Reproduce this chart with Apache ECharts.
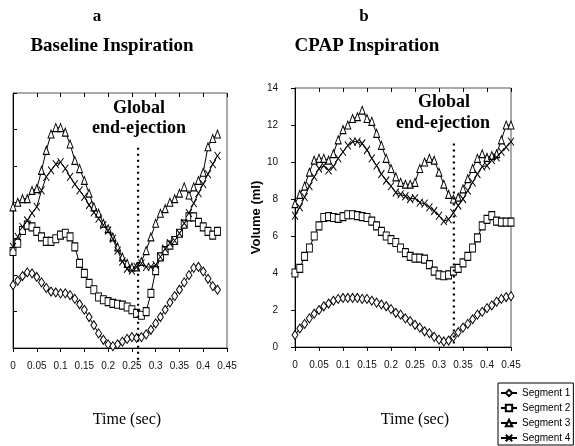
<!DOCTYPE html>
<html>
<head>
<meta charset="utf-8">
<script src="https://cdn.jsdelivr.net/npm/echarts@6/dist/echarts.min.js"></script>
<style>
  html,body{margin:0;padding:0;background:#fff;}
  #chart{width:575px;height:446px;}
</style>
</head>
<body>
<div id="chart"></div>
<script>
// ---- data ----
const timeSec = [0,0.01,0.02,0.03,0.04,0.05,0.06,0.07,0.08,0.09,0.1,0.11,0.12,0.13,0.14,0.15,
  0.16,0.17,0.18,0.19,0.2,0.21,0.22,0.23,0.24,0.25,0.26,0.27,0.28,0.29,0.3,0.31,0.32,0.33,
  0.34,0.35,0.36,0.37,0.38,0.39,0.4,0.41,0.42,0.43,0.44,0.45];
const segNames = ['Segment 1','Segment 2','Segment 3','Segment 4'];

// a: Baseline inspiration
const baseSeg1 = [3.45,3.7,3.95,4.15,4.1,3.9,3.6,3.3,3.1,3.05,3.0,3.0,2.9,2.7,2.4,2.1,1.7,1.25,0.8,0.45,
  0.2,0.1,0.2,0.35,0.5,0.6,0.55,0.6,0.75,1.0,1.35,1.7,2.1,2.5,2.85,3.2,3.6,4.0,4.4,4.45,4.2,3.8,3.4,3.2];
const baseSeg2 = [5.3,5.75,6.45,6.75,6.65,6.4,6.1,5.85,5.85,6.0,6.2,6.3,6.1,5.55,4.65,4.1,3.55,3.2,2.8,2.65,
  2.55,2.45,2.4,2.35,2.25,2.1,1.9,1.8,2.0,3.0,4.25,5.0,5.35,5.65,5.9,6.3,6.8,7.2,7.2,6.9,6.65,6.4,6.2,6.4];
const baseSeg3 = [7.75,8.0,8.2,8.2,8.65,8.75,9.75,10.85,11.75,12.1,12.1,11.85,11.2,10.3,9.85,9.2,8.5,7.75,7.4,6.85,
  6.55,6.1,5.55,5.0,4.65,4.45,4.45,4.75,5.35,6.1,6.85,7.4,7.65,8.0,8.2,8.5,8.85,8.4,8.85,9.2,9.65,11.05,11.5,11.75];
const baseSeg4 = [5.55,6.1,6.65,7.0,7.4,7.75,8.65,9.4,9.75,10.1,10.2,9.85,9.4,9.0,8.65,8.3,7.85,7.45,7.1,6.75,
  6.45,6.0,5.35,4.75,4.35,4.25,4.45,4.65,4.45,4.45,4.55,5.0,5.45,5.75,5.9,6.3,6.85,7.4,7.95,8.5,9.0,9.55,10.1,10.55];

// b: CPAP inspiration
const cpapSeg1 = [0.65,1.0,1.25,1.55,1.8,2.0,2.2,2.35,2.5,2.6,2.65,2.65,2.65,2.65,2.6,2.6,2.5,2.4,2.3,2.2,
  2.05,1.85,1.75,1.55,1.4,1.2,1.05,0.85,0.75,0.55,0.4,0.3,0.35,0.55,0.8,1.05,1.25,1.5,1.75,1.9,2.1,2.25,2.45,2.6,2.7,2.75];
const cpapSeg2 = [4.0,4.25,4.9,5.35,6.0,6.55,7.0,7.05,7.0,6.95,7.05,7.15,7.15,7.1,7.05,7.0,6.8,6.55,6.25,6.0,
  5.8,5.65,5.35,5.1,4.9,4.8,4.8,4.75,4.45,4.1,3.9,3.85,3.9,4.1,4.25,4.55,4.9,5.35,5.9,6.55,6.9,7.1,6.8,6.75,6.75,6.75];
const cpapSeg3 = [7.75,8.25,8.7,9.45,10.1,10.2,10.2,10.1,10.45,11.2,11.75,12.0,12.35,12.45,12.8,12.35,12.2,11.55,10.9,10.2,
  9.65,9.2,8.9,8.8,8.8,8.9,9.65,10.0,10.2,10.1,9.45,8.8,8.25,8.0,8.1,8.55,9.1,9.65,10.2,10.45,10.25,10.35,10.45,11.2,12.0,12.0];
const cpapSeg4 = [7.1,7.55,8.1,8.7,9.2,9.65,9.8,9.55,9.75,10.2,10.55,10.9,11.1,11.1,11.0,10.65,10.2,9.8,9.35,9.0,
  8.7,8.35,8.25,8.15,8.0,8.05,7.8,7.75,7.55,7.35,7.1,6.8,6.9,7.25,7.65,8.0,8.45,8.9,9.35,9.75,9.8,10.1,10.25,10.55,10.8,11.1];

// global end-ejection: time (sec) and vertical extent (ml) of the dotted marker per panel
const ejectTime = [0.263, 0.331];
const ejectSpan = [[11.0, -0.9], [11.0, 0]];

// ---- chart ----
const chart = echarts.init(document.getElementById('chart'), null, {renderer:'canvas'});
const SANS = 'Liberation Sans, Arial, sans-serif';
const SERIF = 'Liberation Serif, Times New Roman, serif';

const marks = [
  { symbol:'diamond', size:[6,9] },
  { symbol:'rect', size:[6,8] },
  { symbol:'triangle', size:[6,8] },
  { symbol:'path://M0,0L10,10M10,0L0,10', size:[6,8] },
];

function seg(name, vals, k, gi){
  return {
    name, type:'line', xAxisIndex:gi*2, yAxisIndex:gi,
    data: vals.map((v,i)=>[timeSec[i], v]),
    symbol: marks[k].symbol, symbolSize: marks[k].size,
    showAllSymbol:true, animation:false, silent:true,
    lineStyle:{ color:'#000', width:1 },
    itemStyle:{ color:'#fff', borderColor:'#000', borderWidth:1 },
    z: 3
  };
}
function eject(gi){
  return {
    type:'line', xAxisIndex:gi*2, yAxisIndex:gi, silent:true, clip:false, symbol:'none',
    data: ejectSpan[gi].map(v=>[ejectTime[gi], v]),
    lineStyle:{ color:'#000', type:[2,4], width:2.2 }, z:4
  };
}
function xAxes(gi){
  const base = { type:'value', gridIndex:gi, min:0, max:0.45, interval:0.05, splitLine:{show:false} };
  return [
    { ...base, axisLine:{ lineStyle:{color:'#000'} }, axisTick:{ length:4, lineStyle:{color:'#000'} },
      axisLabel:{ color:'#111', fontSize:10, fontFamily:SANS, margin:13, showMinLabel:true, showMaxLabel:true } },
    { ...base, axisLine:{show:false}, axisLabel:{show:false}, axisTick:{ inside:true, length:4, lineStyle:{color:'#000'} } },
  ];
}
function note(x, y, text, size){
  return { type:'text', x, y, style:{ text, font:size, fill:'#000', align:'center', verticalAlign:'middle' } };
}

chart.setOption({
  backgroundColor:'#fff',
  animation:false,
  grid:[
    { left:13, top:93, width:214, height:255, show:true, borderColor:'#555', borderWidth:1 },
    { left:295, top:88, width:216, height:259, show:true, borderColor:'#555', borderWidth:1 },
  ],
  xAxis:[ ...xAxes(0), ...xAxes(1) ],
  yAxis:[
    { type:'value', gridIndex:0, min:0, max:14, interval:2, splitLine:{show:false},
      axisLine:{ show:true, lineStyle:{color:'#000'} }, axisLabel:{show:false},
      axisTick:{ show:true, inside:true, length:4, lineStyle:{color:'#000'} } },
    { type:'value', gridIndex:1, min:0, max:14, interval:2, splitLine:{show:false},
      axisLine:{ show:true, lineStyle:{color:'#000'} },
      axisTick:{ show:true, length:4, lineStyle:{color:'#000'} },
      axisLabel:{ color:'#111', fontSize:10, fontFamily:SANS, margin:17 },
      name:'Volume (ml)', nameLocation:'middle', nameGap:18,
      nameTextStyle:{ fontSize:13, fontWeight:'bold', fontFamily:SANS, color:'#000' } },
  ],
  legend:{
    data:segNames, orient:'vertical', left:498, top:383,
    itemWidth:16, itemHeight:8, itemGap:5, padding:[5,3,2,2],
    borderColor:'#000', borderWidth:1, backgroundColor:'#fff',
    textStyle:{ fontSize:10, fontFamily:SANS, color:'#000' }
  },
  graphic:[
    note(97, 17, 'a', 'bold 17px '+SERIF),
    note(364, 17, 'b', 'bold 17px '+SERIF),
    note(112, 46, 'Baseline Inspiration', 'bold 19px '+SERIF),
    note(367, 46, 'CPAP Inspiration', 'bold 19px '+SERIF),
    note(139, 108, 'Global', 'bold 18px '+SERIF),
    note(139, 128, 'end-ejection', 'bold 18px '+SERIF),
    note(444, 102, 'Global', 'bold 18px '+SERIF),
    note(443, 123, 'end-ejection', 'bold 18px '+SERIF),
    note(127, 420, 'Time (sec)', '16px '+SERIF),
    note(415, 420, 'Time (sec)', '16px '+SERIF),
  ],
  series:[
    seg('Segment 1', baseSeg1, 0, 0),
    seg('Segment 2', baseSeg2, 1, 0),
    seg('Segment 3', baseSeg3, 2, 0),
    seg('Segment 4', baseSeg4, 3, 0),
    seg('Segment 1', cpapSeg1, 0, 1),
    seg('Segment 2', cpapSeg2, 1, 1),
    seg('Segment 3', cpapSeg3, 2, 1),
    seg('Segment 4', cpapSeg4, 3, 1),
    eject(0),
    eject(1),
  ]
});
</script>
</body>
</html>
